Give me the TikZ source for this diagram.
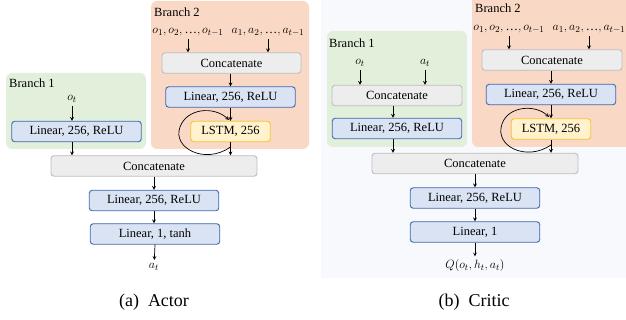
\documentclass[tikz,border=0pt]{standalone}
\usepackage{amsmath}
\usepackage{fontspec}
\setmainfont{Liberation Serif}
\usetikzlibrary{arrows, positioning}
\definecolor{linfill}{HTML}{DAE3F3}
\definecolor{linline}{HTML}{3F68AE}
\definecolor{catfill}{HTML}{EDEDED}
\definecolor{catline}{HTML}{BDBDBD}
\definecolor{lstmfill}{HTML}{FFF2CC}
\definecolor{lstmline}{HTML}{F7C233}
\definecolor{brone}{HTML}{E2EFDA}
\definecolor{brtwo}{HTML}{F9D8C5}
\definecolor{panel}{HTML}{F8F9FD}
\tikzset{
    >=stealth, % small filled arrow heads
    x=1pt, y=-1pt, % one unit is one pixel of the picture, y going down
    every node/.style={font=\fontsize{12.5}{14}\selectfont}, % text in the boxes
    layer/.style={rounded corners=3pt, line width=0.9pt, minimum height=20.5pt, inner sep=0pt}, % a box of the network
    lin/.style={layer, draw=linline, fill=linfill, minimum width=129.5pt},
    cat/.style={layer, draw=catline, fill=catfill},
    lstm/.style={layer, draw=lstmline, fill=lstmfill, minimum width=79.5pt},
    brlabel/.style={anchor=west, inner sep=0pt}, % 'Branch 1', 'Branch 2'
    flow/.style={->, line width=0.7pt}, % the connectors
    caption/.style={font=\fontsize{18}{20}\selectfont},
}
\begin{document}
\begin{tikzpicture}
\useasboundingbox (0,0) rectangle (626,320);
% (a) actor
\fill[brtwo, rounded corners=6pt] (151,1) rectangle (309,149);
\fill[brone, rounded corners=6pt] (6,73) rectangle (146,149);
\node[brlabel] (brA2) at (154,12) {Branch 2};
\node[brlabel] (brA1) at (9,83) {Branch 1};
\node (seqoA) at (188,32) {$o_1, o_2, \text{…}, o_{t-1}$};
\node (seqaA) at (268,32) {$a_1, a_2, \text{…}, a_{t-1}$};
\node[cat, minimum width=139pt] (catA2) at (231.5,63) {Concatenate};
\node[lin] (linA2) at (230.5,97) {Linear, 256, ReLU};
\node[lstm] (lstmA) at (230.5,131.5) {LSTM, 256};
\node (obsA) at (72,99) {$o_t$};
\node[lin] (linA1) at (76.5,131.5) {Linear, 256, ReLU};
\node[cat, minimum width=206pt] (catA) at (154,166) {Concatenate};
\node[lin] (linA3) at (154,200.5) {Linear, 256, ReLU};
\node[lin] (linA4) at (155,234) {Linear, 1, tanh};
\node (outA) at (154,267) {$a_t$};
\node[caption] (capA) at (154,302) {(a)\ \ Actor};
\coordinate (loopA) at (230.5,147);
\draw[flow] (seqoA.south) -- (seqoA.south |- catA2.north);
\draw[flow] (seqaA.south) -- (seqaA.south |- catA2.north);
\draw[flow] (linA2.north |- catA2.south) -- (linA2.north);
\draw[flow] (linA2.south) -- (lstmA.north);
\draw[flow] (obsA) -- (obsA |- linA1.north);
\draw[flow] (obsA |- linA1.south) -- (obsA |- catA.north);
\draw[flow] (lstmA.south) -- (lstmA.south |- catA.north);
\draw[flow] (catA.south) -- (linA3.north);
\draw[flow] (linA3.south) -- (linA3.south |- linA4.north);
\draw[flow] (linA4.south) -- (outA);
\draw[flow] (loopA) .. controls (205,165) and (172,148) .. (180,127)
    .. controls (187,108) and (214,106) .. (229,120);
% (b) critic
\fill[panel] (321,0) rectangle (626,278);
\fill[brtwo, rounded corners=6pt] (472,-8) rectangle (634,147);
\fill[brone, rounded corners=6pt] (327,31) rectangle (467,147);
\node[brlabel] (brC2) at (475,8) {Branch 2};
\node[brlabel] (brC1) at (329,43) {Branch 1};
\node (seqoC) at (509,29) {$o_1, o_2, \text{…}, o_{t-1}$};
\node (seqaC) at (589,29) {$a_1, a_2, \text{…}, a_{t-1}$};
\node[cat, minimum width=140pt] (catC2) at (552,60) {Concatenate};
\node[lin] (linC2) at (551,94.5) {Linear, 256, ReLU};
\node[lstm] (lstmC) at (551,129) {LSTM, 256};
\node (obsC) at (360,63) {$o_t$};
\node (actC) at (425,63) {$a_t$};
\node[cat, minimum width=130pt] (catC1) at (397,95.5) {Concatenate};
\node[lin] (linC1) at (397,128.5) {Linear, 256, ReLU};
\node[cat, minimum width=206pt] (catC) at (475,163.5) {Concatenate};
\node[lin] (linC3) at (475,198) {Linear, 256, ReLU};
\node[lin] (linC4) at (475,232) {Linear, 1};
\node (outC) at (475,266) {$Q(o_t, h_t, a_t)$};
\node[caption] (capC) at (474,302) {(b)\ \ Critic};
\coordinate (loopC) at (551,145);
\coordinate (colC) at (393,140);
\draw[flow] (seqoC.south) -- (seqoC.south |- catC2.north);
\draw[flow] (seqaC.south) -- (seqaC.south |- catC2.north);
\draw[flow] (linC2.north |- catC2.south) -- (linC2.north);
\draw[flow] (linC2.south) -- (lstmC.north);
\draw[flow] (obsC) -- (obsC |- catC1.north);
\draw[flow] (actC) -- (actC |- catC1.north);
\draw[flow] (colC |- catC1.south) -- (colC |- linC1.north);
\draw[flow] (colC |- linC1.south) -- (colC |- catC.north);
\draw[flow] (lstmC.south) -- (lstmC.south |- catC.north);
\draw[flow] (catC.south) -- (linC3.north);
\draw[flow] (linC3.south) -- (linC4.north);
\draw[flow] (linC4.south) -- (outC);
\draw[flow] (loopC) .. controls (526,162) and (494,146) .. (502,124)
    .. controls (508,106) and (535,104) .. (549,117);
\end{tikzpicture}
\end{document}
